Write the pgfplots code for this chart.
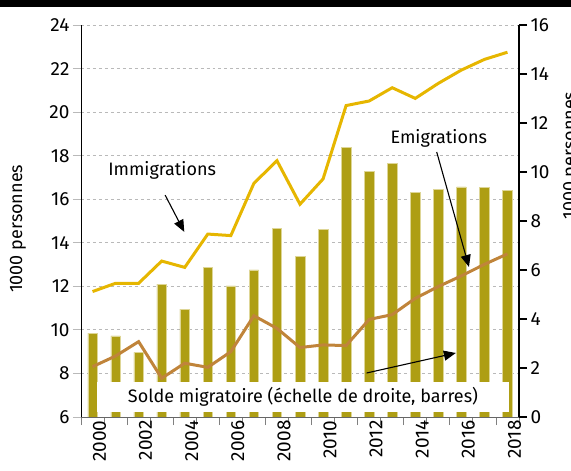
\documentclass[border=0pt]{standalone}
\usepackage{fontspec}
\setmainfont{Fira Sans}
\usepackage{pgfplots}
\pgfplotsset{compat=1.18}
\usetikzlibrary{arrows.meta}
\definecolor{imm}{RGB}{230,182,0}
\definecolor{emi}{RGB}{192,132,58}
\definecolor{barc}{RGB}{174,158,20}
\definecolor{baredge}{RGB}{222,214,150}
\definecolor{gridc}{RGB}{185,185,185}
\pgfplotsset{base/.style={
  scale only axis, width=438bp, height=392bp, at={(0,0)}, anchor=south west,
  xmin=-0.5, xmax=18.5,
  font=\fontsize{18bp}{21bp}\selectfont,
  tick label style={font=\fontsize{19bp}{22bp}\selectfont},
  /pgf/number format/assume math mode=true,
  tick align=outside,
}}
\begin{document}
\begin{tikzpicture}
% axis 1: left scale, grid, frame
\begin{axis}[base,
  ymin=6, ymax=24, ytick={6,8,...,24},
  axis y line*=left, axis x line*=bottom,
  ymajorgrids, grid style={dashed, gridc, line width=0.9bp},
  y axis line style={black, line width=0.9bp},
  x axis line style={black!60, line width=0.9bp},
  ytick style={gridc, line width=0.9bp},
  major tick length=8bp,
  xtick={-0.5,0.5,...,18.5}, xticklabels={},
  xtick style={black!50, line width=0.8bp},
  extra x ticks={0,2,...,18},
  extra x tick labels={2000,2002,2004,2006,2008,2010,2012,2014,2016,2018},
  extra x tick style={major tick length=0pt, tick label style={rotate=90, anchor=east, xshift=0bp, yshift=-7bp}},
]
\addplot[draw=none] coordinates {(0,6)};
\end{axis}
% axis 2: right scale, bars
\begin{axis}[base,
  ymin=0, ymax=16, ytick={0,2,...,16},
  axis y line*=right, axis x line=none,
  y axis line style={black, line width=1.6bp},
  ytick style={black, line width=1.2bp},
  major tick length=8bp,
  ybar, bar width=9.5bp,
]
\addplot[fill=barc, draw=baredge, line width=0.5bp] coordinates {
(0,3.42) (1,3.31) (2,2.64) (3,5.42) (4,4.40) (5,6.11) (6,5.35) (7,6.00) (8,7.70) (9,6.57)
(10,7.66) (11,11.00) (12,10.03) (13,10.35) (14,9.17) (15,9.29) (16,9.39) (17,9.37) (18,9.25)};
\end{axis}
% axis 3: left scale, lines and annotations
\begin{axis}[base, ymin=6, ymax=24, hide axis, clip=false]
\fill[white] (axis cs:0.2,6.23) rectangle (axis cs:18.07,7.61);
\node[anchor=center] at (axis cs:9.13,6.92) {Solde migratoire (échelle de droite, barres)};
\addplot[imm, line width=3bp] coordinates {
(0,11.76) (1,12.14) (2,12.14) (3,13.16) (4,12.87) (5,14.40) (6,14.33) (7,16.73) (8,17.77) (9,15.77)
(10,16.93) (11,20.30) (12,20.51) (13,21.12) (14,20.63) (15,21.32) (16,21.93) (17,22.42) (18,22.75)};
\addplot[emi, line width=3bp] coordinates {
(0,8.31) (1,8.80) (2,9.46) (3,7.78) (4,8.47) (5,8.28) (6,9.00) (7,10.65) (8,10.07) (9,9.19)
(10,9.31) (11,9.28) (12,10.48) (13,10.70) (14,11.45) (15,11.99) (16,12.48) (17,13.01) (18,13.49)};
\node at (axis cs:3.02,17.34) {Immigrations};
\draw[line width=1.1bp, -{Triangle[length=12bp,width=10bp]}] (axis cs:3.15,16.19) -- (axis cs:3.98,14.50);
\node at (axis cs:15.02,18.81) {Emigrations};
\draw[line width=1.1bp, -{Triangle[length=12bp,width=10bp]}] (axis cs:14.93,18.17) -- (axis cs:16.33,12.89);
\draw[line width=1.1bp, -{Triangle[length=12bp,width=10bp]}] (axis cs:11.89,8.02) -- (axis cs:15.76,8.94);
\node[rotate=90, anchor=center] at (rel axis cs:-0.144,0.48) {1000 personnes};
\node[rotate=90, anchor=north west, inner sep=0pt] at (rel axis cs:1.1005,0.5026) {1000 personnes};
\end{axis}
\fill[black] (-81bp,410bp) rectangle (490bp,417bp);
\pgfresetboundingbox
\path[use as bounding box] (-81bp,-54bp) rectangle (490bp,417bp);
\end{tikzpicture}
\end{document}
